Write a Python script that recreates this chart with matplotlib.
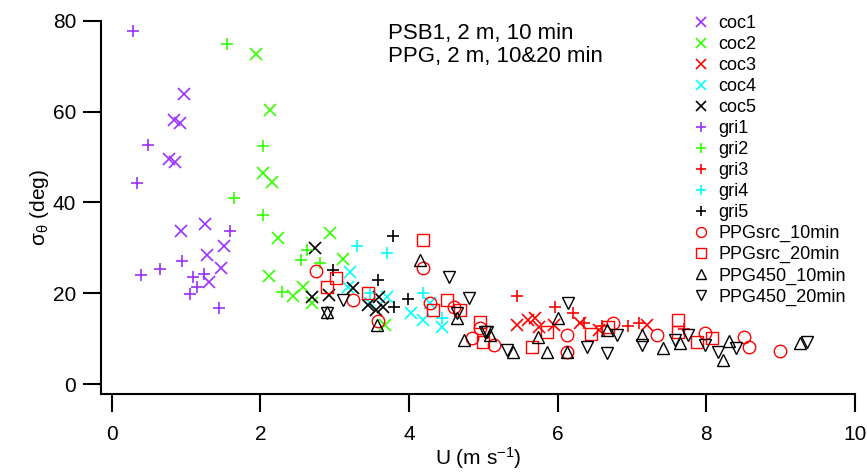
import matplotlib
matplotlib.use('Agg')
import matplotlib.pyplot as plt

plt.rcParams['font.family'] = ['Liberation Sans', 'DejaVu Sans']
plt.rcParams['mathtext.default'] = 'regular'

# data
coc1_x = [0.97, 0.84, 0.92, 0.77, 0.85, 0.93, 1.26, 1.51, 1.28, 1.47, 1.31]
coc1_y = [63.9, 58.2, 57.5, 49.6, 48.9, 33.7, 35.2, 30.4, 28.4, 25.6, 22.5]
coc2_x = [1.94, 2.13, 2.04, 2.15, 2.24, 2.12, 2.44, 2.93, 3.11, 2.57, 2.69, 3.68]
coc2_y = [72.7, 60.4, 46.4, 44.6, 32.2, 23.8, 19.4, 33.3, 27.5, 21.4, 17.8, 13.0]
coc3_x = [5.45, 5.6, 5.7, 5.75, 5.95, 6.3, 6.55, 7.2]
coc3_y = [13.0, 14.0, 14.5, 12.5, 13.0, 13.5, 12.0, 13.0]
coc4_x = [3.21, 3.18, 3.70, 4.02, 4.19, 4.45, 4.28, 3.48]
coc4_y = [24.7, 21.4, 19.2, 15.6, 14.1, 12.6, 17.8, 17.8]
coc5_x = [2.74, 2.92, 2.69, 3.24, 3.59, 3.55, 3.65, 3.45]
coc5_y = [30.0, 19.6, 19.2, 21.1, 19.2, 16.3, 17.0, 17.4]
gri1_x = [0.29, 0.49, 0.34, 1.59, 0.95, 0.65, 0.40, 1.09, 1.24, 1.15, 1.05, 1.44]
gri1_y = [77.8, 52.6, 44.3, 33.7, 27.1, 25.3, 24.0, 23.6, 24.2, 21.4, 19.8, 16.7]
gri2_x = [1.55, 2.04, 1.64, 2.04, 2.29, 2.55, 2.63, 2.80]
gri2_y = [74.9, 52.4, 41.0, 37.2, 20.3, 27.3, 29.5, 26.6]
gri3_x = [5.45, 5.97, 6.2, 6.35, 6.6, 6.95, 7.1, 7.7]
gri3_y = [19.4, 17.0, 15.6, 13.4, 12.7, 12.8, 13.4, 12.2]
gri4_x = [3.30, 3.70, 4.19, 4.44, 3.48]
gri4_y = [30.4, 28.9, 20.0, 14.5, 20.0]
gri5_x = [2.98, 3.78, 3.58, 3.99, 3.80]
gri5_y = [25.1, 32.6, 22.9, 18.7, 17.0]
src10_x = [2.75, 4.19, 4.28, 4.60, 3.58, 3.24, 4.85, 4.95, 5.14, 6.13, 6.75, 7.34, 6.13,
           7.98, 8.50, 8.57, 8.99]
src10_y = [24.9, 25.6, 17.8, 17.0, 13.9, 18.5, 10.1, 12.3, 8.6, 10.8, 13.4, 10.8, 7.1,
           11.2, 10.4, 8.2, 7.3]
src20_x = [4.19, 3.02, 2.90, 3.45, 4.51, 4.69, 4.32, 4.95, 5.00, 5.65, 6.67, 7.62, 7.62,
           7.88, 8.08, 5.85, 6.45]
src20_y = [31.7, 23.3, 21.4, 20.0, 18.5, 16.3, 16.3, 13.7, 9.3, 8.2, 12.6, 14.1, 11.5,
           9.3, 10.1, 11.5, 11.0]
p10_x = [2.90, 3.57, 4.15, 4.65, 4.74, 5.09, 5.40, 5.74, 6.01, 5.85, 6.13, 6.66, 7.14,
         7.42, 7.65, 8.30, 8.22, 9.26]
p10_y = [15.9, 13.0, 27.3, 14.5, 9.7, 10.8, 7.1, 10.4, 14.5, 7.1, 7.1, 11.9, 10.8,
         7.9, 9.0, 9.5, 5.3, 9.0]
p20_x = [4.54, 4.80, 2.90, 3.11, 4.65, 5.02, 5.05, 5.32, 6.14, 6.39, 6.66, 6.80, 7.14,
         7.58, 7.75, 7.98, 8.15, 8.40, 9.36]
p20_y = [23.6, 18.9, 15.6, 18.5, 15.6, 11.5, 11.5, 7.5, 17.8, 8.2, 6.8, 10.8, 8.6,
         9.7, 10.8, 8.6, 7.1, 7.9, 9.3]

purple = '#9b30ff'
green = '#33ff00'
red = '#ff0000'
cyan = '#00ffff'
black = '#000000'

fig = plt.figure(figsize=(8.67, 4.76), dpi=100)
ax = fig.add_axes([0.1165, 0.1723, 0.9862 - 0.1165, 0.9559 - 0.1723])

series = [
    (coc1_x, coc1_y, 'x', purple, 'coc1'),
    (coc2_x, coc2_y, 'x', green, 'coc2'),
    (coc3_x, coc3_y, 'x', red, 'coc3'),
    (coc4_x, coc4_y, 'x', cyan, 'coc4'),
    (coc5_x, coc5_y, 'x', black, 'coc5'),
    (gri1_x, gri1_y, '+', purple, 'gri1'),
    (gri2_x, gri2_y, '+', green, 'gri2'),
    (gri3_x, gri3_y, '+', red, 'gri3'),
    (gri4_x, gri4_y, '+', cyan, 'gri4'),
    (gri5_x, gri5_y, '+', black, 'gri5'),
    (src10_x, src10_y, 'o', red, 'PPGsrc_10min'),
    (src20_x, src20_y, 's', red, 'PPGsrc_20min'),
    (p10_x, p10_y, '^', black, 'PPG450_10min'),
    (p20_x, p20_y, 'v', black, 'PPG450_20min'),
]

for xs, ys, m, c, lab in series:
    if m in ('x', '+'):
        ax.plot(xs, ys, linestyle='none', marker=m, color=c, markersize=9,
                markeredgewidth=1.2, label=lab)
    else:
        ax.plot(xs, ys, linestyle='none', marker=m, markerfacecolor='none',
                markeredgecolor=c, markersize=9, markeredgewidth=1.0, label=lab)

ax.set_xlim(-0.144, 10)
ax.set_ylim(-2.2, 80)
ax.set_xticks([0, 2, 4, 6, 8, 10])
ax.set_yticks([0, 20, 40, 60, 80])
ax.spines['top'].set_visible(False)
ax.spines['right'].set_visible(False)
for s in ('left', 'bottom'):
    ax.spines[s].set_linewidth(1.5)
ax.tick_params(direction='out', length=13, width=1.5)
ax.tick_params(axis='y', labelsize=15, pad=5)
ax.tick_params(axis='x', labelsize=15, pad=9)

ax.set_xlabel('U (m s$^{-1}$)', fontsize=15, labelpad=1)
ax.set_ylabel('σ$_θ$ (deg)', fontsize=15, labelpad=1)

ax.text(3.72, 79.5, 'PSB1, 2 m, 10 min\nPPG, 2 m, 10&20 min', fontsize=16,
        va='top', ha='left', linespacing=1.12)

ax.legend(loc='upper left', bbox_to_anchor=(0.782, 0.998), bbox_transform=fig.transFigure,
          frameon=False, fontsize=13, labelspacing=0.22, handlelength=1.0,
          handletextpad=0.45, markerscale=0.8, borderpad=0.3)

fig.savefig('out.png', dpi=100)
